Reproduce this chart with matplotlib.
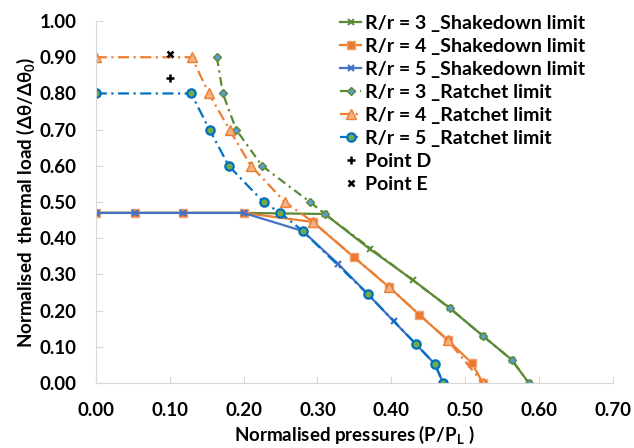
import matplotlib.pyplot as plt

plt.rcParams['font.family'] = ['Lato', 'DejaVu Sans']
plt.rcParams['font.weight'] = 'bold'

# shakedown limits
sd3_x = [0.0, 0.053, 0.118, 0.20, 0.31, 0.371, 0.429, 0.479, 0.524, 0.563, 0.586]
sd3_y = [0.47, 0.47, 0.47, 0.47, 0.467, 0.37, 0.285, 0.207, 0.13, 0.064, 0.0]
sd4_x = [0.0, 0.053, 0.118, 0.20, 0.294, 0.349, 0.397, 0.438, 0.476, 0.509, 0.524]
sd4_y = [0.47, 0.47, 0.47, 0.47, 0.445, 0.348, 0.265, 0.188, 0.119, 0.055, 0.0]
sd5_x = [0.0, 0.053, 0.118, 0.20, 0.28, 0.328, 0.368, 0.403, 0.433, 0.459, 0.47]
sd5_y = [0.47, 0.47, 0.47, 0.47, 0.42, 0.329, 0.246, 0.171, 0.108, 0.052, 0.0]

# ratchet limits
rl3_x = [0.164, 0.172, 0.19, 0.225, 0.29, 0.31, 0.479, 0.524, 0.563, 0.586]
rl3_y = [0.90, 0.80, 0.70, 0.60, 0.50, 0.467, 0.207, 0.13, 0.064, 0.0]
rl4_x = [0.0, 0.13, 0.153, 0.181, 0.21, 0.256, 0.294, 0.397, 0.476, 0.524]
rl4_y = [0.90, 0.90, 0.80, 0.70, 0.60, 0.50, 0.445, 0.265, 0.119, 0.0]
rl5_x = [0.0, 0.129, 0.154, 0.18, 0.227, 0.25, 0.28, 0.368, 0.433, 0.459, 0.47]
rl5_y = [0.80, 0.80, 0.70, 0.60, 0.50, 0.47, 0.42, 0.246, 0.108, 0.052, 0.0]

point_d = (0.10, 0.842)
point_e = (0.10, 0.91)

green = '#5B8A35'
orange = '#ED7D31'
blue = '#4472C4'
blue2 = '#0070C0'

fig = plt.figure(figsize=(6.34, 4.48), dpi=100)
ax = fig.add_axes([0.151, 0.145, 0.816, 0.808])

ax.plot(sd3_x, sd3_y, color=green, lw=1.6, marker='x', ms=5, mew=1.4,
        label='R/r = 3 _Shakedown limit')
ax.plot(sd4_x, sd4_y, color=orange, lw=1.6, marker='s', ms=6, mfc='#E8782E',
        mec='#F0A070', label='R/r = 4 _Shakedown limit')
ax.plot(sd5_x, sd5_y, color=blue, lw=1.6, marker='x', ms=5, mew=1.6,
        label='R/r = 5 _Shakedown limit')
ax.plot(rl3_x, rl3_y, color=green, lw=1.6, ls=(0, (4, 2, 1, 2)), marker='D',
        ms=4, mfc='#5B9BD5', mec=green, label='R/r = 3 _Ratchet limit')
ax.plot(rl4_x, rl4_y, color=orange, lw=1.6, ls=(0, (5, 2, 1, 2)), marker='^',
        ms=6.5, mfc='#F4B183', mec=orange, label='R/r = 4 _Ratchet limit')
ax.plot(rl5_x, rl5_y, color=blue2, lw=1.6, ls=(0, (5, 2, 1, 2)), marker='o',
        ms=6, mfc='#70AD47', mec=blue2, mew=1.6, label='R/r = 5 _Ratchet limit')
ax.plot([point_d[0]], [point_d[1]], ls='none', marker='+', ms=6, mew=1.8,
        color='black', label='Point D')
ax.plot([point_e[0]], [point_e[1]], ls='none', marker='x', ms=5, mew=1.8,
        color='black', label='Point E')

ax.set_xlim(0, 0.70)
ax.set_ylim(0, 1.0)
ax.set_xticks([i / 10 for i in range(8)])
ax.set_yticks([i / 10 for i in range(11)])
ax.xaxis.set_major_formatter(plt.FormatStrFormatter('%.2f'))
ax.yaxis.set_major_formatter(plt.FormatStrFormatter('%.2f'))
ax.tick_params(direction='in', length=5, color='#D9D9D9', labelsize=13.5, pad=14)

for s in ['top', 'right']:
    ax.spines[s].set_visible(False)
for s in ['left', 'bottom']:
    ax.spines[s].set_color('#D9D9D9')

ax.set_xlabel('Normalised pressures (P/P$_\\mathregular{L}$ )', fontsize=13.5,
              fontweight='bold', labelpad=3)
ax.set_ylabel('Normalised  thermal load (\u0394\u03b8/\u0394\u03b8$_\\mathregular{0}$)',
              fontsize=13.5, fontweight='bold', labelpad=2)

leg = ax.legend(loc='upper left', bbox_to_anchor=(0.53, 0.975),
                bbox_transform=fig.transFigure, frameon=False,
                fontsize=14, handlelength=1.1, handletextpad=0.2,
                labelspacing=0.31, borderaxespad=0, borderpad=0.2)
for t in leg.get_texts():
    t.set_fontweight('bold')

plt.savefig('out.png', dpi=100)
